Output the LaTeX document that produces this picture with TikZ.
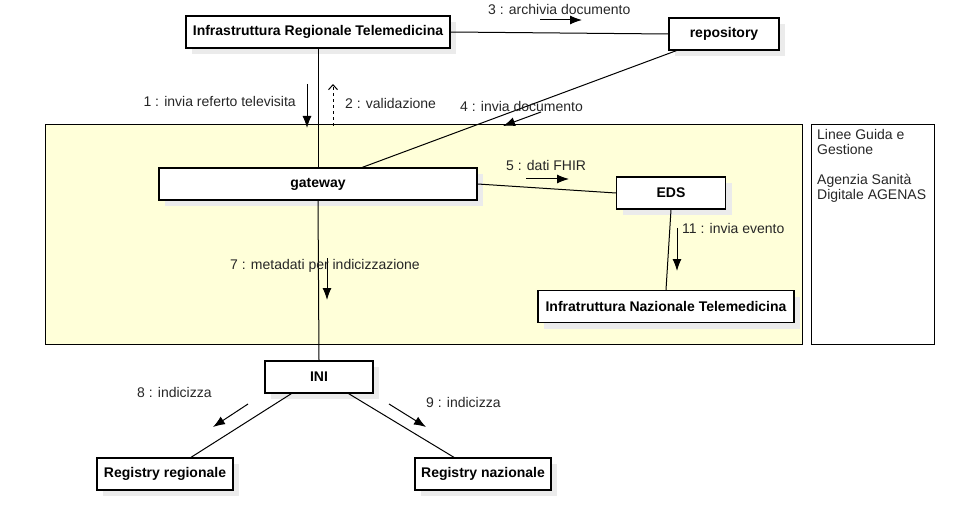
\documentclass[tikz,border=0pt]{standalone}
\usepackage{fontspec}
\setmainfont{Liberation Sans}
\usepackage{xcolor}
\usepackage{tikz}
\usetikzlibrary{shadows}
\usetikzlibrary{positioning}
\usetikzlibrary{arrows.meta,shapes}
\usetikzlibrary{calc}
\definecolor{fsebg}{HTML}{FFFFD9}
\tikzstyle{obj}=[rectangle,draw=black,fill=white,line width=1.3pt,inner sep=0pt,
  font=\fontsize{14}{15}\selectfont\bfseries,
  general shadow={fill=black!8,shadow xshift=6pt,shadow yshift=-6pt}]
\tikzstyle{frame}=[rectangle,draw=black,line width=1pt,inner sep=0pt]
\tikzstyle{link} = [draw,line width=1pt]
\tikzstyle{msg} = [draw,line width=1pt,-{Latex[length=12pt,width=9pt]}]
\tikzstyle{reply} = [draw,line width=1pt,dashed,-{Straight Barb[length=5pt,width=9pt]}]
\tikzstyle{msglabel} = [inner sep=0pt,anchor=west,text=black!85]

\begin{document}
\begin{tikzpicture}[x=1pt,y=-1pt,font=\fontsize{14}{15}\selectfont]
    \useasboundingbox (0,0) rectangle (977,505);
    % First we draw the frames
    \node[frame,fill=fsebg,minimum width=757pt,minimum height=219pt] (fse) at (423.5,234.5) {};
    \node[frame,minimum width=123pt,minimum height=219pt] (agenas) at (872.5,234.5) {};
    \node[inner sep=0pt,anchor=north west,align=left,text=black!85] (agenastext) at (817,129)
        {Linee Guida e\\Gestione\\[15pt]Agenzia Sanità\\Digitale AGENAS};

    % Then the objects
    \foreach \pos/\name/\w/\label in {{(318,32)/irt/264/Infrastruttura Regionale Telemedicina},
    {(724,34)/repo/110/repository}, {(318,184)/gateway/318/gateway}, {(671,193)/eds/109/EDS},
    {(666,306.5)/int/256/Infratruttura Nazionale Telemedicina}, {(319,377)/ini/108/INI},
    {(165,474)/regreg/136/Registry regionale}, {(483,474)/regnaz/136/Registry nazionale}}
        \node[obj,minimum width=\w pt,minimum height=32pt] (\name) at \pos {\label};

    % Connect objects with links
    \path[link] (irt) -- (gateway);
    \path[link] (irt.east) -- (repo.west);
    \path[link] ($(repo.south west)+(8,0)$) -- ($(gateway.north west)+(204,0)$);
    \path[link] (gateway.east) -- (eds.west);
    \path[link] (gateway.south) -- (ini.north);
    \path[link] (eds.south) -- (int.north);
    \path[link] ($(ini.south west)+(27,0)$) -- ($(regreg.north)+(26,0)$);
    \path[link] ($(ini.south east)+(-25,0)$) -- ($(regnaz.north)+(-29,0)$);

    % Messages along the links
    \foreach \xs/\ys/\xe/\ye/\name in {307/84/307/128/m1, 540/20/582/20/m3, 541/112/503/126/m4,
    526/179/569/179/m5, 327/258/327/300/m7, 677/228/677/271/m11,
    248/404/213/427/m8, 389/404/426/427/m9}
    {
        \coordinate (s\name) at (\xs,\ys);
        \coordinate (e\name) at (\xe,\ye);
        \path[msg] (s\name) -- (e\name);
    }
    \coordinate (sm2) at (333,126);
    \coordinate (em2) at (333,84);
    \path[reply] (sm2) -- (em2);

    \node[msglabel,anchor=east] (l1) at (296,101) {1 : invia referto televisita};
    \foreach \pos/\name/\label in {{(345,103)/l2/2 : validazione}, {(488,9)/l3/3 : archivia documento},
    {(460,106)/l4/4 : invia documento}, {(506,165)/l5/5 : dati FHIR},
    {(230,266)/l7/7 : metadati per indicizzazione}, {(682,228)/l11/11 : invia evento},
    {(137,392)/l8/8 : indicizza}, {(426,402)/l9/9 : indicizza}}
        \node[msglabel] (\name) at \pos {\label};
\end{tikzpicture}
\end{document}
